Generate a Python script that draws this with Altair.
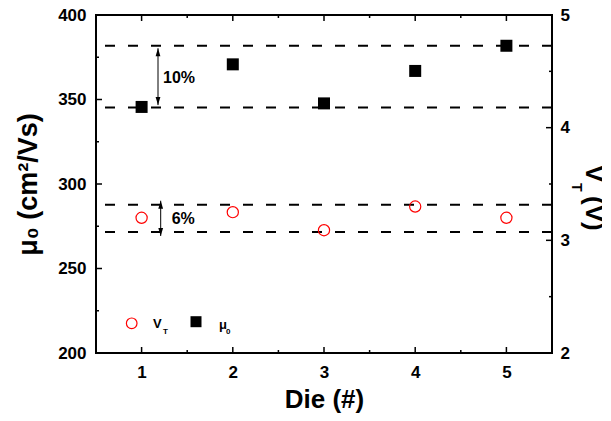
import altair as alt
import pandas as pd

# ---- data ----
dies = [1, 2, 3, 4, 5]
mu0 = [345.6, 370.8, 347.7, 366.9, 381.8]
vt = [3.20, 3.25, 3.09, 3.30, 3.20]
mu_band = [345.2, 381.8]
vt_band = [3.074, 3.316]
x_ticks = [1, 2, 3, 4, 5]
x_minor = [1.5, 2.5, 3.5, 4.5]
mu_ticks = [200, 250, 300, 350, 400]
mu_minor = [225, 275, 325, 375]
vt_ticks = [2, 3, 4, 5]
vt_minor = [2.5, 3.5, 4.5]
pct_labels = ["10%", "6%"]

W, H = 456, 338
FONT = "Liberation Sans"

xs = alt.Scale(domain=[0.5, 5.5], nice=False, zero=False)
ys_mu = alt.Scale(domain=[200, 400], nice=False, zero=False)
ys_vt = alt.Scale(domain=[2, 5], nice=False, zero=False)

UP = "M0,-1L0.6,1L-0.6,1Z"
DOWN = "M0,1L0.6,-1L-0.6,-1Z"

df_mu = pd.DataFrame({"die": dies, "mu": mu0})
df_vt = pd.DataFrame({"die": dies, "vt": vt})

x_axis = alt.Axis(values=x_ticks, format="d", tickSize=0, labelPadding=11,
                  labelFont=FONT, labelFontSize=17, labelFontWeight="bold", labelColor="black",
                  title="Die (#)", titleFont=FONT, titleFontSize=26, titleFontWeight="bold",
                  titleColor="black", titlePadding=6, domain=False, grid=False)
mu_axis = alt.Axis(values=mu_ticks, format="d", tickSize=0, labelPadding=10, orient="left",
                   labelFont=FONT, labelFontSize=17, labelFontWeight="bold", labelColor="black",
                   title="μ₀ (cm²/Vs)", titleFont=FONT, titleFontSize=27, titleFontWeight="bold",
                   titleColor="black", titlePadding=15, domain=False, grid=False)
vt_axis = alt.Axis(values=vt_ticks, format="d", tickSize=0, labelPadding=8, orient="right",
                   labelFont=FONT, labelFontSize=17, labelFontWeight="bold", labelColor="black",
                   title="", domain=False, grid=False)


def X(f):
    return alt.X(f, scale=xs, axis=x_axis)


def ymu(f):
    return alt.Y(f, scale=ys_mu, axis=None)


def yvt(f):
    return alt.Y(f, scale=ys_vt, axis=None)


def tick_rule(values):
    return alt.Chart(pd.DataFrame({"v": values})).mark_rule(color="black", strokeWidth=1.5)


# ---------- mu (left axis) ----------
mu_points = alt.Chart(df_mu).mark_point(shape="square", filled=True, color="black",
                                         size=144, opacity=1).encode(
    x=X("die:Q"),
    y=alt.Y("mu:Q", scale=ys_mu, axis=mu_axis),
)
mu_lines = alt.Chart(pd.DataFrame({"v": mu_band})).mark_rule(
    color="black", strokeWidth=2, strokeDash=[10, 13]).encode(y=ymu("v:Q"))

df_mu_arrow = pd.DataFrame({"lo": [mu_band[0]], "hi": [mu_band[1]], "t": [pct_labels[0]]})
mu_shaft = alt.Chart(df_mu_arrow).mark_rule(color="black", strokeWidth=1,
                                            yOffset=-2.5, y2Offset=2.5).encode(
    x=alt.value(62), y=ymu("lo:Q"), y2="hi:Q")
mu_head_up = alt.Chart(df_mu_arrow).mark_point(shape=UP, filled=True, color="black",
                                               size=64, opacity=1, yOffset=6.5).encode(
    x=alt.value(62), y=ymu("hi:Q"))
mu_head_dn = alt.Chart(df_mu_arrow).mark_point(shape=DOWN, filled=True, color="black",
                                               size=64, opacity=1, yOffset=-6.5).encode(
    x=alt.value(62), y=ymu("lo:Q"))
mu_pct = alt.Chart(df_mu_arrow).transform_calculate(mid="(datum.lo + datum.hi) / 2").mark_text(
    align="left", baseline="middle", font=FONT, fontSize=16, fontWeight="bold",
    color="black", dy=1).encode(x=alt.value(67), y=ymu("mid:Q"), text="t:N")

left_major = tick_rule(mu_ticks).encode(y=ymu("v:Q"), x=alt.value(0), x2=alt.value(6))
left_minor = tick_rule(mu_minor).encode(y=ymu("v:Q"), x=alt.value(0), x2=alt.value(3))
bot_major = tick_rule(x_ticks).encode(x=X("v:Q"), y=alt.value(H), y2=alt.value(H - 6))
bot_minor = tick_rule(x_minor).encode(x=X("v:Q"), y=alt.value(H), y2=alt.value(H - 3))
top_major = tick_rule(x_ticks).encode(x=X("v:Q"), y=alt.value(0), y2=alt.value(6))
top_minor = tick_rule(x_minor).encode(x=X("v:Q"), y=alt.value(0), y2=alt.value(3))

# legend (manual, as in the reference)
leg = pd.DataFrame({"t": ["V"]})
leg_circle = alt.Chart(leg).mark_point(shape="circle", filled=False, color="#ff0000",
                                       strokeWidth=1.2, size=113, opacity=1).encode(
    x=alt.value(35.7), y=alt.value(308.3))
leg_square = alt.Chart(leg).mark_point(shape="square", filled=True, color="black",
                                       size=121, opacity=1).encode(
    x=alt.value(100), y=alt.value(306.7))


def txt(s, x, y, size, angle=0):
    return alt.Chart(pd.DataFrame({"t": [s]})).mark_text(
        align="left", baseline="alphabetic", font=FONT, fontSize=size,
        fontWeight="bold", color="black", angle=angle).encode(
        x=alt.value(x), y=alt.value(y), text="t:N")


leg_texts = [txt("V", 57, 313, 13), txt("T", 67, 319, 8),
             txt("μ", 123, 314, 13), txt("0", 130, 319, 8)]

# ---------- VT (right axis) ----------
vt_points = alt.Chart(df_vt).mark_point(shape="circle", filled=False, color="#ff0000",
                                         strokeWidth=1.2, size=125, opacity=1).encode(
    x=X("die:Q"),
    y=alt.Y("vt:Q", scale=ys_vt, axis=vt_axis),
)
vt_lines = alt.Chart(pd.DataFrame({"v": vt_band})).mark_rule(
    color="black", strokeWidth=2, strokeDash=[10, 13]).encode(y=yvt("v:Q"))
df_vt_arrow = pd.DataFrame({"lo": [vt_band[0]], "hi": [vt_band[1]], "t": [pct_labels[1]]})
vt_shaft = alt.Chart(df_vt_arrow).mark_rule(color="black", strokeWidth=1,
                                            yOffset=4, y2Offset=-4).encode(
    x=alt.value(64.7), y=yvt("lo:Q"), y2="hi:Q")
vt_head_up = alt.Chart(df_vt_arrow).mark_point(shape=UP, filled=True, color="black",
                                               size=64, opacity=1, yOffset=0).encode(
    x=alt.value(64.7), y=yvt("hi:Q"))
vt_head_dn = alt.Chart(df_vt_arrow).mark_point(shape=DOWN, filled=True, color="black",
                                               size=64, opacity=1, yOffset=0).encode(
    x=alt.value(64.7), y=yvt("lo:Q"))
vt_pct = alt.Chart(df_vt_arrow).transform_calculate(mid="(datum.lo + datum.hi) / 2").mark_text(
    align="left", baseline="middle", font=FONT, fontSize=16, fontWeight="bold",
    color="black", dy=1).encode(x=alt.value(75.7), y=yvt("mid:Q"), text="t:N")

right_major = tick_rule(vt_ticks).encode(y=yvt("v:Q"), x=alt.value(W - 6), x2=alt.value(W))
right_minor = tick_rule(vt_minor).encode(y=yvt("v:Q"), x=alt.value(W - 3), x2=alt.value(W))

right_title = [txt("V", 490, 150, 26, 90), txt("T", 476, 168, 14, 90),
               txt("(V)", 490, 181, 26, 90)]

layers = [mu_lines, vt_lines, mu_shaft, mu_head_up, mu_head_dn, mu_pct,
          vt_shaft, vt_head_up, vt_head_dn, vt_pct,
          left_major, left_minor, bot_major, bot_minor, top_major, top_minor,
          right_major, right_minor,
          leg_circle, leg_square, *leg_texts, *right_title,
          mu_points, vt_points]

chart = alt.layer(*layers).resolve_scale(y="independent").properties(
    width=W, height=H,
    autosize=alt.AutoSizeParams(type="none"),
    padding={"left": 88, "top": 7, "right": 50, "bottom": 66},
).configure_view(stroke="black", strokeWidth=2)

chart.save("out.html", embed_options={"renderer": "svg", "actions": False})
